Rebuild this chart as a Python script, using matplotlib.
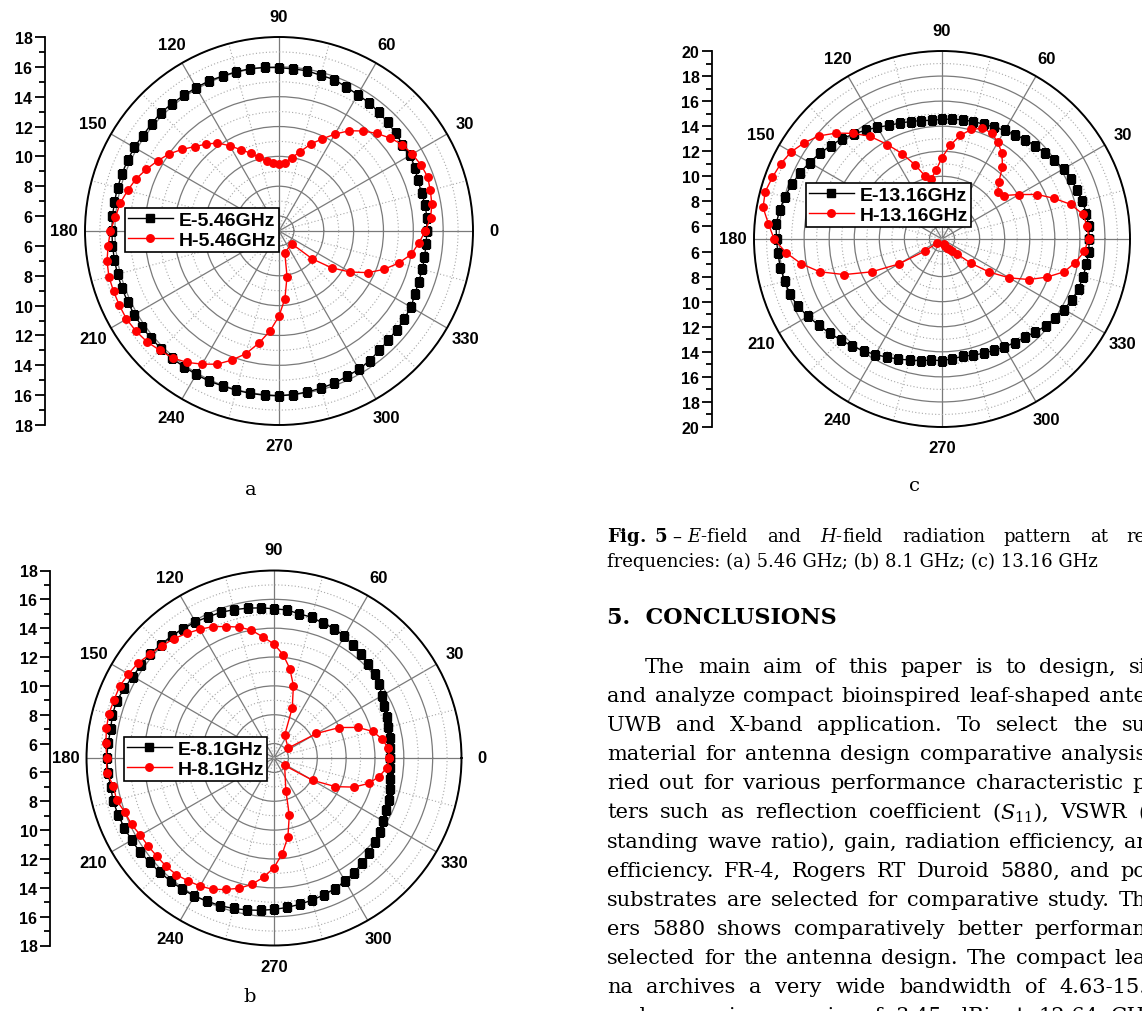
import numpy as np
import matplotlib.pyplot as plt
import matplotlib.ticker as mticker

W, H = 1142, 1012
R0 = 5  # radial value at the centre of every pattern
nan = np.nan

plt.rcParams['font.family'] = ['Liberation Sans', 'DejaVu Sans']
plt.rcParams['mathtext.fontset'] = 'dejavuserif'

# measurement angles, degrees
angles = np.arange(0, 360, 5)

# (a) 5.46 GHz
e_546 = [14.9, 14.95, 14.95, 14.9, 14.9, 15.05, 15.15, 15.1, 15.2, 15.3, 15.4, 15.5,
         15.55, 15.65, 15.8, 15.8, 15.9, 15.9, 15.95, 16.0, 16.05, 16.05, 16.05, 16.1,
         16.1, 16.1, 16.15, 16.2, 16.15, 16.15, 16.2, 16.2, 16.2, 16.2, 16.2, 16.2,
         16.2, 16.2, 16.2, 16.2, 16.2, 16.2, 16.2, 16.2, 16.2, 16.15, 16.15, 16.1,
         16.1, 16.1, 16.05, 16.05, 16.05, 16.05, 16.05, 16.0, 15.95, 15.9, 15.85, 15.75,
         15.7, 15.6, 15.45, 15.35, 15.3, 15.25, 15.2, 15.05, 14.95, 14.95, 14.9, 14.9]
h_546 = [14.8, 15.2, 15.4, 15.5, 15.6, 15.5, 15.3, 15.1, 14.7, 14.25, 13.75, 13.2,
         12.5, 11.8, 11.2, 10.5, 10.0, 9.6, 9.5, 9.6, 9.75, 10.1, 10.55, 11.0,
         11.6, 12.2, 12.6, 13.0, 13.5, 14.0, 14.4, 14.8, 15.2, 15.5, 15.8, 16.0,
         16.3, 16.5, 16.7, 16.8, 16.8, 16.8, 16.8, 16.7, 16.55, 16.3, 16.1, 15.75,
         15.3, 14.85, 14.2, 13.5, 12.6, 11.7, 10.7, 9.55, 8.1, 6.5, nan, nan,
         nan, nan, nan, 6.2, 7.9, 9.3, 10.5, 11.6, 12.5, 13.3, 14.0, 14.4]

# (b) 8.1 GHz
e_81 = [13.05, 13.1, 13.15, 13.2, 13.35, 13.45, 13.65, 13.9, 14.1, 14.25, 14.4, 14.55,
        14.75, 14.9, 14.95, 15.1, 15.15, 15.3, 15.35, 15.45, 15.55, 15.65, 15.75, 15.8,
        15.9, 15.95, 16.05, 16.1, 16.2, 16.25, 16.3, 16.45, 16.6, 16.6, 16.5, 16.55,
        16.6, 16.55, 16.5, 16.55, 16.5, 16.45, 16.4, 16.35, 16.25, 16.2, 16.15, 16.1,
        16.05, 15.95, 15.9, 15.8, 15.7, 15.6, 15.5, 15.4, 15.3, 15.2, 15.1, 15.0,
        14.85, 14.7, 14.5, 14.35, 14.1, 13.95, 13.75, 13.6, 13.45, 13.3, 13.2, 13.1]
h_81 = [13.0, 12.95, 12.6, 12.1, 11.2, 10.0, 8.4, 6.2, nan, nan, nan, nan,
        nan, 6.75, 8.7, 10.2, 11.3, 12.2, 12.9, 13.4, 14.0, 14.4, 14.7, 15.05,
        15.3, 15.55, 15.8, 16.0, 16.2, 16.5, 16.65, 16.8, 16.8, 16.85, 16.8, 16.7,
        16.6, 16.65, 16.3, 16.3, 16.0, 15.9, 15.7, 15.65, 15.6, 15.6, 15.55, 15.4,
        15.25, 15.05, 14.7, 14.35, 13.9, 13.3, 12.6, 11.65, 10.55, 9.1, 7.4, nan,
        nan, nan, nan, nan, nan, 5.9, 8.1, 9.7, 10.9, 11.8, 12.4, 12.85]

# (c) 13.16 GHz
e_1316 = [16.75, 16.75, 16.7, 16.6, 16.45, 16.35, 16.2, 15.95, 15.7, 15.5, 15.35, 15.15,
          15.0, 14.85, 14.75, 14.7, 14.65, 14.6, 14.55, 14.5, 14.6, 14.7, 14.85, 15.0,
          15.3, 15.6, 15.95, 16.3, 16.6, 16.9, 17.2, 17.5, 17.75, 18.0, 18.15, 18.3,
          18.2, 18.15, 18.1, 18.0, 17.9, 17.7, 17.35, 17.0, 16.7, 16.4, 16.15, 15.9,
          15.65, 15.4, 15.2, 15.0, 14.85, 14.7, 14.7, 14.6, 14.5, 14.6, 14.7, 14.8,
          14.95, 15.1, 15.25, 15.5, 15.8, 16.0, 16.25, 16.45, 16.6, 16.65, 16.7, 16.75]
h_1316 = [16.7, 16.65, 16.4, 15.65, 14.5, 13.4, 12.1, 11.05, 10.8, 11.4, 12.5, 13.35,
          13.9, 14.35, 14.4, 14.05, 13.4, 12.5, 11.5, 10.5, 9.9, 10.2, 11.3, 12.5,
          13.7, 15.0, 16.0, 16.95, 17.8, 18.4, 18.9, 19.2, 19.4, 19.6, 19.5, 18.9,
          18.4, 17.5, 16.4, 15.1, 13.3, 11.2, 9.0, 6.7, 5.5, nan, nan, nan,
          nan, nan, nan, nan, nan, nan, nan, nan, nan, nan, 5.4, 5.6,
          5.8, 6.0, 6.3, 6.65, 8.0, 9.6, 11.2, 12.65, 13.9, 15.1, 15.8, 16.4]

fig = plt.figure(figsize=(W / 100, H / 100), dpi=100)


def px_box(x0, y0, w, h):
    # pixel box (top-left origin) -> figure fraction rect
    return [x0 / W, 1 - (y0 + h) / H, w / W, h / H]


def radiation_panel(cx, cy, rad, rmax, spine_x, e, h, freq, leg_xy):
    ax = fig.add_axes(px_box(cx - rad, cy - rad, 2 * rad, 2 * rad), projection='polar')
    ax.set_ylim(R0, rmax)
    ax.set_thetagrids(range(0, 360, 30), [str(a) for a in range(0, 360, 30)],
                      fontsize=12, fontweight='bold')
    ax.xaxis.set_minor_locator(mticker.FixedLocator(np.deg2rad(np.arange(15, 360, 30))))
    ax.set_yticks(np.arange(R0 + 1, rmax + 1, 2))
    ax.yaxis.set_minor_locator(mticker.FixedLocator(np.arange(R0 + 2, rmax, 2)))
    ax.set_yticklabels([])
    ax.tick_params(axis='y', which='both', length=0)
    ax.tick_params(axis='x', which='major', pad=8, direction='in', length=5)
    ax.tick_params(axis='x', which='minor', direction='in', length=3)
    ax.grid(True, which='major', color='#7a7a7a', lw=0.9, ls='-')
    ax.grid(True, which='minor', color='#a8a8a8', lw=0.8, ls=(0, (1, 2)))
    ax.spines['polar'].set_linewidth(1.4)

    th = np.deg2rad(angles)
    for r, col, mk, lab in ((e, 'black', 's', 'E-' + freq), (h, 'red', 'o', 'H-' + freq)):
        r = np.asarray(r, float)
        ok = ~np.isnan(r)
        t, v = th[ok], r[ok]
        # close the loop back to 0 deg
        ax.plot(np.append(t, t[0] + 2 * np.pi), np.append(v, v[0]), color=col, lw=1,
                marker=mk, ms=5.4, label=lab, zorder=3)

    leg = ax.legend(loc='upper left', bbox_to_anchor=(leg_xy[0] / W, 1 - leg_xy[1] / H),
                    bbox_transform=fig.transFigure, borderaxespad=0, fancybox=False,
                    edgecolor='black', framealpha=1, prop={'size': 14, 'weight': 'bold'},
                    handlelength=2.3, handletextpad=0.3, labelspacing=0.15, borderpad=0.15,
                    numpoints=1)
    leg.get_frame().set_linewidth(1.2)

    # linear gain scale drawn beside the polar plot
    sc = fig.add_axes(px_box(spine_x, cy - rad, 1, 2 * rad))
    span = rmax - R0
    sc.set_ylim(-span, span)
    vals = np.arange(R0 + 1, rmax + 1, 2) - R0
    pos = np.concatenate([vals, -vals])
    sc.set_yticks(pos)
    sc.set_yticklabels([str(int(abs(p) + R0)) for p in pos], fontsize=11.5, fontweight='bold')
    minor = np.arange(R0 + 2, rmax, 2) - R0
    sc.yaxis.set_minor_locator(mticker.FixedLocator(np.concatenate([minor, -minor])))
    sc.set_xticks([])
    for s in ('top', 'right', 'bottom'):
        sc.spines[s].set_visible(False)
    sc.spines['left'].set_linewidth(1.3)
    sc.tick_params(axis='y', which='major', length=7, width=1.3, pad=2)
    sc.tick_params(axis='y', which='minor', length=4, width=1.3)
    sc.patch.set_visible(False)
    return ax


radiation_panel(279, 232, 194, 18, 45, e_546, h_546, '5.46GHz', (125, 209))
radiation_panel(274, 759, 187.5, 18, 50, e_81, h_81, '8.1GHz', (124, 738))
radiation_panel(942, 240, 188, 20, 712, e_1316, h_1316, '13.16GHz', (806, 184))

serif = 'DejaVu Serif'
for s, x, y in (('a', 251, 490), ('b', 250, 997), ('c', 915, 486)):
    fig.text(x / W, 1 - y / H, s, ha='center', va='center', family=serif, fontsize=14)

renderer = fig.canvas.get_renderer()


def justified(words, x0, x1, base, size):
    # spread the words of one line evenly between x0 and x1 (pixels)
    items = [fig.text(0, 0, w, family=serif, fontsize=size, va='baseline') for w in words]
    widths = [t.get_window_extent(renderer).width for t in items]
    gap = (x1 - x0 - sum(widths)) / max(len(words) - 1, 1)
    x = x0
    for t, w in zip(items, widths):
        t.set_position((x / W, 1 - base / H))
        x += w + gap


justified([r'$\mathbf{Fig.\ 5}$ – $\mathit{E}$-field', 'and', r'$\mathit{H}$-field',
           'radiation', 'pattern', 'at', 're'], 607, 1146, 542, 13)
fig.text(607 / W, 1 - 567 / H, 'frequencies: (a) 5.46 GHz; (b) 8.1 GHz; (c) 13.16 GHz',
         family=serif, fontsize=13, va='baseline')
fig.text(607 / W, 1 - 624 / H, '5.  CONCLUSIONS', family=serif, fontsize=16,
         fontweight='bold', va='baseline')

body = [
    ['The', 'main', 'aim', 'of', 'this', 'paper', 'is', 'to', 'design,', 'si'],
    ['and', 'analyze', 'compact', 'bioinspired', 'leaf-shaped', 'ante'],
    ['UWB', 'and', 'X-band', 'application.', 'To', 'select', 'the', 'su'],
    ['material', 'for', 'antenna', 'design', 'comparative', 'analysis'],
    ['ried', 'out', 'for', 'various', 'performance', 'characteristic', 'p'],
    ['ters', 'such', 'as', 'reflection', 'coefficient', r'($S_{11}$),', 'VSWR', '('],
    ['standing', 'wave', 'ratio),', 'gain,', 'radiation', 'efficiency,', 'ar'],
    ['efficiency.', 'FR-4,', 'Rogers', 'RT', 'Duroid', '5880,', 'and', 'po'],
    ['substrates', 'are', 'selected', 'for', 'comparative', 'study.', 'Th'],
    ['ers', '5880', 'shows', 'comparatively', 'better', 'performan'],
    ['selected', 'for', 'the', 'antenna', 'design.', 'The', 'compact', 'lea'],
    ['na', 'archives', 'a', 'very', 'wide', 'bandwidth', 'of', '4.63-15.'],
    ['and', 'a', 'maximum', 'gain', 'of', '3.45', 'dBi', 'at', '12.64', 'GH'],
]
for i, words in enumerate(body):
    justified(words, 645 if i == 0 else 607, 1146, 673 + 29.1 * i, 15)

fig.savefig('out.png', dpi=100)
